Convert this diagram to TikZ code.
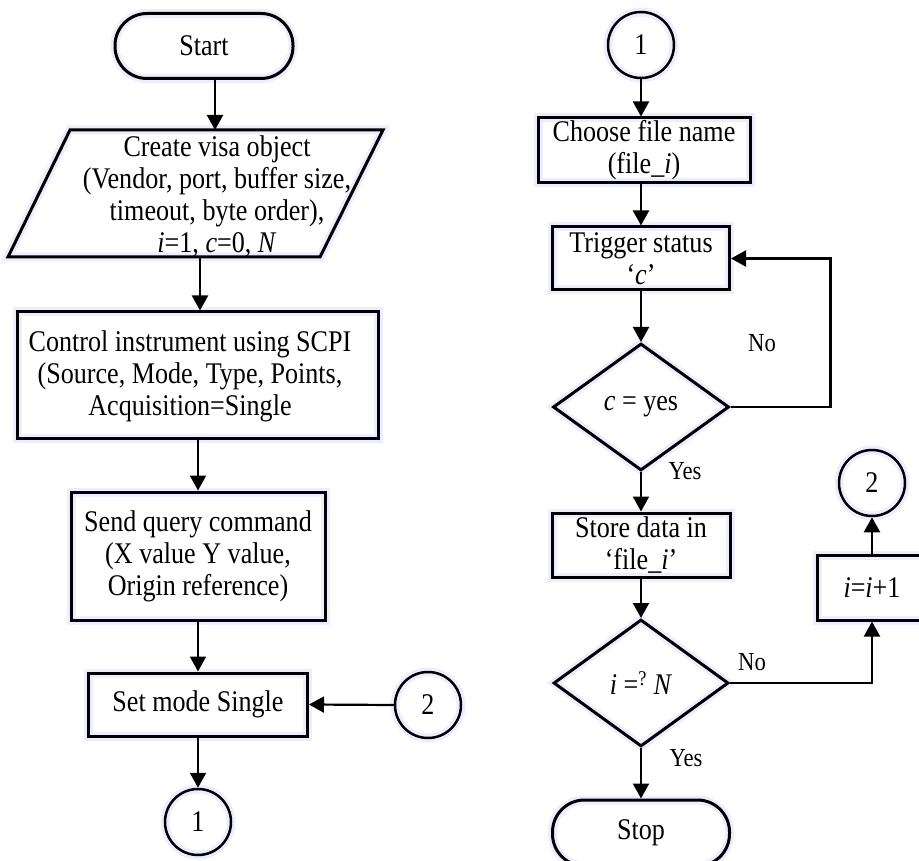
\documentclass[tikz,border=0pt]{standalone}
\usepackage{fontspec}
\setmainfont[FakeStretch=0.87]{Liberation Serif}
\usetikzlibrary{shapes.geometric,arrows.meta,calc}
\begin{document}
\begin{tikzpicture}[x=1pt,y=-1pt,
  mainfont/.style={font=\fontsize{30}{32}\selectfont},
  glow/.style={preaction={draw=blue!7, line width=9pt}},
  box/.style={draw, line width=3pt, rectangle, inner sep=0pt, align=center, mainfont, glow},
  term/.style={box, rounded corners=32pt},
  dec/.style={draw, line width=3pt, diamond, inner sep=0pt, align=center, mainfont, glow},
  conn/.style={draw, line width=2.5pt, circle, inner sep=0pt, minimum size=66pt, mainfont, glow},
  arr/.style={line width=2.2pt, -{Triangle[length=15pt,width=16pt]}},
  lab/.style={font=\fontsize{26}{28}\selectfont, inner sep=0pt},
  txt/.style={align=center, inner sep=0pt, mainfont}
]
\useasboundingbox (0,0) rectangle (919,861);

% ---------- left column ----------
\node[term, minimum width=178pt, minimum height=65pt] (start) at (204,46) {Start};

\draw[line width=3pt, glow] (70,130) -- (383,130) -- (320,257) -- (8,257) -- cycle;
\node[txt] (para) at (217,196) {Create visa object\\(Vendor, port, buffer size,\\timeout, byte order),\\\textit{i}=1, \textit{c}=0, \textit{N}};
\coordinate (paraT) at (215,130);
\coordinate (paraB) at (200,257);

\node[box, minimum width=361pt, minimum height=126pt] (ctrl) at (197.5,375) {};
\node[txt] (ctrltxt) at (190,376) {Control instrument using SCPI\\(Source, Mode, Type, Points,\\Acquisition=Single};

\node[box, minimum width=254pt, minimum height=128pt] (send) at (198,556) {Send query command\\(X value Y value,\\Origin reference)};

\node[box, minimum width=219pt, minimum height=63pt] (setm) at (198,704.5) {Set mode Single};

\node[conn] (c2L) at (428,705) {2};
\node[conn] (c1L) at (198,822) {1};

\draw[arr] (start.south -| paraT) -- (paraT);
\draw[arr] (paraB) -- (ctrl.north -| paraB);
\draw[arr] (ctrl.south -| send.north) -- (send.north);
\draw[arr] (send.south) -- (setm.north);
\draw[arr] (setm.south) -- (c1L.north);
\draw[arr] (c2L.west) -- (setm.east);

% ---------- right column ----------
\node[conn] (c1R) at (641,45) {1};
\node[box, minimum width=212pt, minimum height=65pt] (choose) at (644,150.5) {Choose file name\\(file\_\textit{i})};
\node[box, minimum width=177pt, minimum height=63pt] (trig) at (641,258.5) {Trigger status\\‘\textit{c}’};
\node[dec, minimum width=176pt, minimum height=127pt] (dec1) at (641,407) {\textit{c} = yes};
\node[box, minimum width=178pt, minimum height=64pt] (store) at (641,545) {Store data in\\‘file\_\textit{i}’};
\node[dec, minimum width=175pt, minimum height=127pt] (dec2) at (641,683) {\textit{i} =\textsuperscript{?} \textit{N}};
\node[box, minimum width=110pt, minimum height=65pt] (inc) at (872,587.5) {\textit{i}=\textit{i}+1};
\node[conn] (c2R) at (872,483) {2};
\node[term, minimum width=177pt, minimum height=66pt] (stop) at (641,833) {Stop};

\draw[arr] (c1R.south) -- (c1R.south |- choose.north);
\draw[arr] (trig.north |- choose.south) -- (trig.north);
\draw[arr] (trig.south) -- (dec1.north);
\draw[arr] (dec1.east) -- ++(100,0) |- (trig.east);
\draw[arr] (dec1.south) -- (store.north);
\draw[arr] (store.south) -- (dec2.north);
\draw[arr] (dec2.east) -| (inc.south);
\draw[arr] (inc.north) -- (c2R.south);
\draw[arr] (dec2.south) -- (stop.north);

\node[lab] (no1) at (762,343) {No};
\node[lab] (yes1) at (685,471) {Yes};
\node[lab] (no2) at (752,662) {No};
\node[lab] (yes2) at (686,758) {Yes};
\end{tikzpicture}
\end{document}
